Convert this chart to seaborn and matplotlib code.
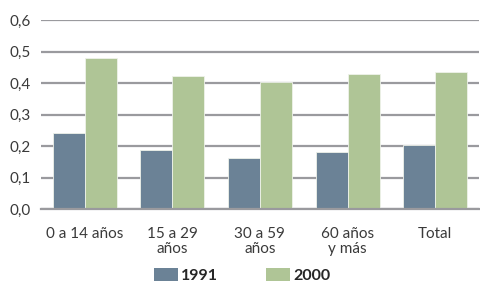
import matplotlib
matplotlib.use("Agg")
import matplotlib.pyplot as plt
import seaborn as sns
import pandas as pd
from matplotlib.patches import Patch
from matplotlib.ticker import FuncFormatter

categories = ["0 a 14 años", "15 a 29\naños", "30 a 59\naños", "60 años\ny más", "Total"]
years = ["1991", "2000"]
values_1991 = [0.241, 0.188, 0.164, 0.182, 0.203]
values_2000 = [0.480, 0.423, 0.404, 0.430, 0.436]
colors = ["#6b8296", "#afc596"]

df = pd.DataFrame({
    "grupo": categories * 2,
    "año": [years[0]] * len(categories) + [years[1]] * len(categories),
    "valor": values_1991 + values_2000,
})

sns.set_theme(style="white")
plt.rcParams["font.family"] = ["Lato", "DejaVu Sans"]

fig = plt.figure(figsize=(4.8, 2.83), dpi=100)
ax = fig.add_axes([0.085, 0.2604, 0.913, 0.6686])

sns.barplot(data=df, x="grupo", y="valor", hue="año", palette=colors,
            width=0.73, ax=ax, legend=False, saturation=1,
            edgecolor="#eef2ea", linewidth=0.6)

ax.set_ylim(0, 0.6)
ax.set_xlim(-0.5, 4.5)
ax.set_yticks([0.0, 0.1, 0.2, 0.3, 0.4, 0.5, 0.6])
ax.yaxis.set_major_formatter(FuncFormatter(lambda v, p: f"{v:.1f}".replace(".", ",")))
ax.grid(axis="y", color="#9a9a9e", linewidth=1.6)
ax.set_axisbelow(True)
for s in ["left", "right", "top"]:
    ax.spines[s].set_visible(False)
ax.spines["bottom"].set_color("#9a9a9e")
ax.spines["bottom"].set_linewidth(1.6)
ax.set_xlabel("")
ax.set_ylabel("")
ax.tick_params(axis="both", length=0, labelsize=11, colors="#3a3a3a")
ax.tick_params(axis="x", pad=13)
ax.tick_params(axis="y", pad=7)
for lab in ax.get_xticklabels():
    lab.set_linespacing(1.1)

handles = [Patch(facecolor=c, edgecolor="none") for c in colors]
fig.legend(handles, years, loc="center", bbox_to_anchor=(0.505, 0.028), ncol=2,
           frameon=False, handlelength=1.5, handleheight=0.9, handletextpad=0.2,
           columnspacing=3.0, prop={"weight": "bold", "size": 11.5})

fig.savefig("out.png", dpi=100)
